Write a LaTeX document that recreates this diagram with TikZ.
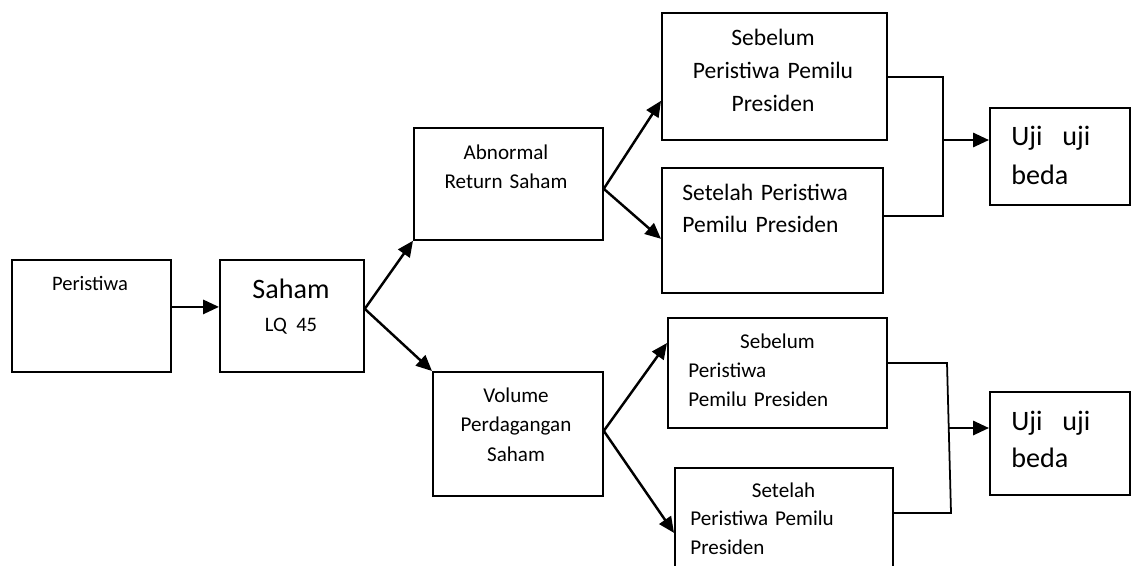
\documentclass[tikz,border=0pt]{standalone}
\usepackage{fontspec}
\setmainfont{Carlito}
\usetikzlibrary{arrows.meta}
\newlength{\px}
\setlength{\px}{0.02cm}

\begin{document}
\begin{tikzpicture}[x=0.02cm,y=-0.02cm,
box/.style={draw,line width=1pt,inner sep=0pt,anchor=north west},
bsize/.style 2 args={minimum width={#1*\px},minimum height={#2*\px}},
txt/.style={inner sep=0pt,font=\fontsize{12}{17}\selectfont},
arr/.style={-{Triangle[length=9pt,width=8pt]},line width=1.4pt},
link/.style={line width=1pt}]
\path[use as bounding box,clip] (0,0) rectangle (1131,565);

% boxes
\node[box,bsize={159}{112}] (peristiwa) at (11,259) {};
\node[box,bsize={144}{112}] (saham) at (219,259) {};
\node[box,bsize={189}{112}] (abnormal) at (413,127) {};
\node[box,bsize={170}{124}] (volume) at (432,371) {};
\node[box,bsize={225}{127}] (sebelumA) at (661,12) {};
\node[box,bsize={221}{125}] (setelahA) at (661,167) {};
\node[box,bsize={219}{110}] (sebelumB) at (667,317) {};
\node[box,bsize={218}{133}] (setelahB) at (674,467) {};
\node[box,bsize={140}{97}] (ujiA) at (989,107) {};
\node[box,bsize={140}{103}] (ujiB) at (989,391) {};

% texts
\node[txt,font=\fontsize{11.7}{17}\selectfont,anchor=base] (tPeristiwa) at (90,290) {Peristiwa};
\node[txt,text width={140*\px},align=center,font=\fontsize{16}{19.3}\selectfont,anchor=base] (tSaham) at (291,298)
  {Saham\\{\fontsize{11.7}{19.3}\selectfont LQ 45}};
\node[txt,text width={180*\px},align=center,anchor=base] (tAbnormal) at (506,159) {Abnormal\\Return Saham};
\node[txt,text width={160*\px},align=center,anchor=base] (tVolume) at (516,402) {Volume\\Perdagangan\\Saham};
\node[txt,text width={215*\px},align=center,font=\fontsize{13.4}{19}\selectfont,anchor=base] (tSebelumA) at (773,45)
  {Sebelum\\Peristiwa Pemilu\\Presiden};
\node[txt,text width={195*\px},align=left,font=\fontsize{13.4}{18.7}\selectfont,anchor=base west] (tSetelahA) at (682,200)
  {Setelah Peristiwa\\Pemilu Presiden};
\node[txt,text width={190*\px},align=left,font=\fontsize{12}{16.7}\selectfont,anchor=base west] (tSebelumB) at (688,348)
  {\hspace*{29.5pt}Sebelum\\Peristiwa\\Pemilu Presiden};
\node[txt,text width={195*\px},align=left,font=\fontsize{12}{16.4}\selectfont,anchor=base west] (tSetelahB) at (690,497)
  {\hspace*{35pt}Setelah\\Peristiwa Pemilu\\Presiden};
\node[txt,text width={79*\px},align=left,font=\fontsize{16}{22.7}\selectfont,anchor=base west] (tUjiA) at (1011,145)
  {Uji\hfill uji\\beda};
\node[txt,text width={79*\px},align=left,font=\fontsize{16}{21.5}\selectfont,anchor=base west] (tUjiB) at (1011,430)
  {Uji\hfill uji\\beda};

% arrows
\draw[arr] ([yshift=5.1pt]peristiwa.east) -- ([yshift=5.1pt]saham.west);
\draw[arr] ([yshift=4pt]saham.east) -- (abnormal.south west);
\draw[arr] ([yshift=4pt]saham.east) -- (volume.north west);
\draw[arr] ([yshift=-2.8pt]abnormal.east) -- ([yshift=-13.9pt]sebelumA.west);
\draw[arr] ([yshift=-2.8pt]abnormal.east) -- ([yshift=-4.8pt]setelahA.west);
\draw[arr] ([yshift=1.7pt]volume.east) -- ([yshift=17pt]sebelumB.west);
\draw[arr] ([yshift=1.7pt]volume.east) -- ([yshift=0.85pt]setelahB.west);

% joining lines
\coordinate (mA1) at (943,77);
\coordinate (mA2) at (943,216);
\coordinate (mAo) at (943,140);
\coordinate (mB1) at (947,363);
\coordinate (mB2) at (951,513);
\coordinate (mBo) at (949,428);
\draw[link] (sebelumA.east |- mA1) -- (mA1) -- (mA2) -- (setelahA.east |- mA2);
\draw[arr] (mAo) -- (ujiA.west |- mAo);
\draw[link] (sebelumB.east |- mB1) -- (mB1) -- (mB2) -- (setelahB.east |- mB2);
\draw[arr] (mBo) -- (ujiB.west |- mBo);
\end{tikzpicture}
\end{document}
